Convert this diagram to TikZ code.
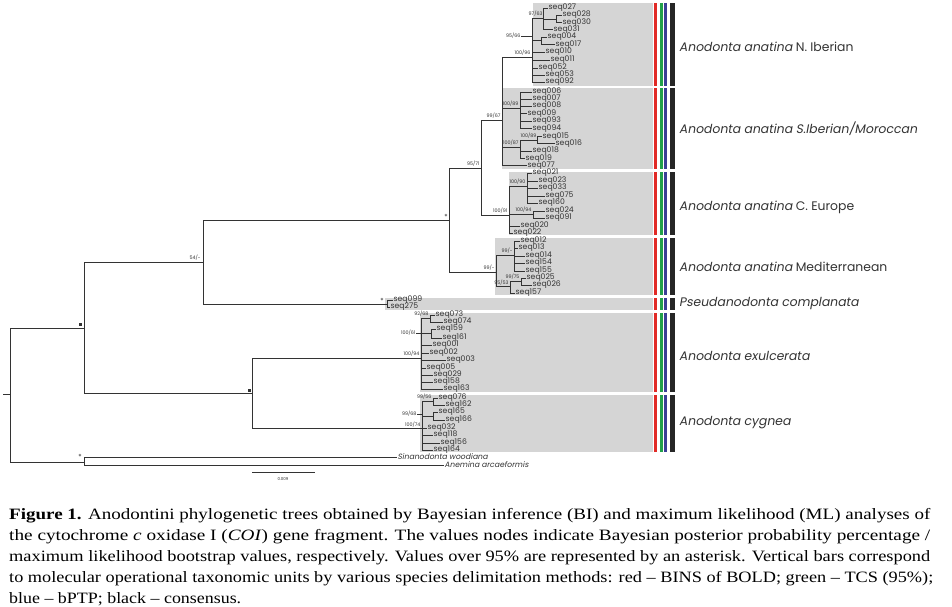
\documentclass[tikz,border=0pt]{standalone}
\usepackage{fontspec}
\usepackage{graphicx}
\setmainfont{Liberation Serif}
\newfontfamily\treefont{Poppins}
\newfontfamily\treeitfont[FakeSlant=0.18]{Poppins}
\definecolor{brc}{HTML}{333333}
\definecolor{boxc}{HTML}{D5D5D5}
\definecolor{barred}{HTML}{E12A26}
\definecolor{bargreen}{HTML}{22A04B}
\definecolor{barblue}{HTML}{3B3F96}
\definecolor{barblack}{HTML}{262626}
\tikzset{
  br/.style={draw=brc, line width=0.8pt},
  lead/.style={draw=brc, line width=0.35pt},
  tiplab/.style={anchor=west, inner sep=0.5pt, font=\treefont\fontsize{7.7}{8}\selectfont, text=brc},
  suplab/.style={inner sep=0.3pt, font=\treefont\fontsize{4.8}{5}\selectfont, text=brc},
  grplab/.style={anchor=west, inner sep=0pt, font=\treefont\fontsize{12.4}{14}\selectfont, text=brc},
  sqdot/.style={fill=brc, minimum size=3pt, inner sep=0pt},
  caplab/.style={anchor=base west, inner sep=0pt, font=\fontsize{15.8}{18}\selectfont},
}
\newcommand\lf[5]{\coordinate (#1) at (#3,#4); \draw[br] (#2) |- (#1); \node[tiplab] (#1l) at (#1) {#5};}
\newcommand\nd[4]{\coordinate (#1) at (#3,#4); \draw[br] (#2) |- (#1);}
\begin{document}
\begin{tikzpicture}[x=1pt,y=-1pt]
\useasboundingbox (0,0) rectangle (952,607);
% grey boxes and bars
\foreach \ya/\yb/\xl in {3/86/533, 88/169/502, 172/235/509, 238/295/495, 298/310/385, 313/392/420, 395/452/420}{
  \fill[boxc] (\xl,\ya) rectangle (653,\yb);
  \fill[barred] (654.3,\ya) rectangle (656.8,\yb);
  \fill[bargreen] (660,\ya) rectangle (662.5,\yb);
  \fill[barblue] (664.3,\ya) rectangle (666.8,\yb);
  \fill[barblack] (670,\ya) rectangle (675,\yb);
}
% group labels
\node[grplab] (gNI) at (679,47) {{\treeitfont Anodonta anatina} N. Iberian};
\begin{scope}
  \clip (676,110) rectangle (918,150);
  \node[grplab] (gSI) at (679,129) {{\treeitfont Anodonta anatina S.Iberian/Moroccan}};
\end{scope}
\node[grplab] (gCE) at (679,207) {{\treeitfont Anodonta anatina} C. Europe};
\node[grplab] (gMD) at (679,267) {{\treeitfont Anodonta anatina} Mediterranean};
\node[grplab] (gPS) at (679,304) {{\treeitfont Pseudanodonta complanata}};
\node[grplab] (gEX) at (679,356) {{\treeitfont Anodonta exulcerata}};
\node[grplab] (gCY) at (679,423) {{\treeitfont Anodonta cygnea}};
% backbone
\coordinate (stub) at (3,394);
\coordinate (root) at (10,394);
\draw[br] (stub) -- (root);
\nd{n1}{root}{84}{328}
\nd{og}{root}{84}{462}
\nd{n2}{n1}{203}{262}
\nd{n3}{n1}{252}{393}
\nd{anat}{n2}{449}{220}
\nd{pseu}{n2}{387}{304}
\nd{a1}{anat}{481}{168}
\nd{med}{anat}{496}{272}
\nd{a2}{a1}{502}{120}
\nd{ceu}{a1}{509}{215}
% N. Iberian
\nd{nib}{a2}{532}{57}
\nd{ni1}{nib}{543}{18}
\lf{s027}{ni1}{548}{8}{seq027}
\nd{ni1b}{ni1}{556}{19}
\lf{s028}{ni1b}{562}{15}{seq028}
\lf{s030}{ni1b}{562}{22.5}{seq030}
\lf{s031}{ni1}{553}{29.5}{seq031}
\nd{ni2}{nib}{541}{40.5}
\lf{s004}{ni2}{547}{37}{seq004}
\lf{s017}{ni2}{555}{44.5}{seq017}
\lf{s010}{nib}{545}{52}{seq010}
\lf{s011}{nib}{550}{60}{seq011}
\lf{s052}{nib}{538}{68}{seq052}
\lf{s053}{nib}{545}{75}{seq053}
\lf{s092}{nib}{545}{82}{seq092}
% S. Iberian
\nd{sibA}{a2}{520}{108}
\lf{s006}{sibA}{532}{92}{seq006}
\lf{s007}{sibA}{532}{99}{seq007}
\lf{s008}{sibA}{532}{106}{seq008}
\lf{s009}{sibA}{527}{113.5}{seq009}
\lf{s093}{sibA}{532}{121}{seq093}
\lf{s094}{sibA}{532}{128.5}{seq094}
\nd{sibB}{a2}{520}{147}
\nd{sibB1}{sibB}{537}{140}
\lf{s015}{sibB1}{542}{136.5}{seq015}
\lf{s016}{sibB1}{555}{143.5}{seq016}
\lf{s018}{sibB}{532}{151}{seq018}
\lf{s019}{sibB}{525}{158.5}{seq019}
\lf{s077}{a2}{527}{165.5}{seq077}
% C. Europe
\nd{ceA}{ceu}{527}{186}
\lf{s021}{ceA}{532}{173}{seq021}
\lf{s023}{ceA}{538}{181}{seq023}
\lf{s033}{ceA}{538}{188}{seq033}
\lf{s075}{ceA}{545}{196}{seq075}
\lf{s160}{ceA}{538}{203}{seq160}
\nd{ceB}{ceu}{533}{214.5}
\lf{s024}{ceB}{545}{211}{seq024}
\lf{s091}{ceB}{545}{218}{seq091}
\lf{s020}{ceu}{520}{226}{seq020}
\lf{s022}{ceu}{513}{233}{seq022}
% Mediterranean
\nd{mdA}{med}{514}{255}
\lf{s012}{mdA}{520}{241}{seq012}
\lf{s013}{mdA}{518}{248}{seq013}
\lf{s014}{mdA}{525}{256}{seq014}
\lf{s154}{mdA}{525}{263}{seq154}
\lf{s155}{mdA}{525}{271}{seq155}
\nd{mdB}{med}{510}{286}
\nd{mdB1}{mdB}{521}{281}
\lf{s025}{mdB1}{526}{278}{seq025}
\lf{s026}{mdB1}{532}{285}{seq026}
\lf{s157}{mdB}{515}{293}{seq157}
% Pseudanodonta
\lf{s099}{pseu}{393}{300}{seq099}
\lf{s275}{pseu}{390}{307}{seq275}
% exulcerata
\nd{ex}{n3}{421}{358}
\nd{ex1}{ex}{430}{318}
\lf{s073}{ex1}{435}{315}{seq073}
\lf{s074}{ex1}{443}{322}{seq074}
\nd{ex2}{ex}{431}{333}
\lf{s159}{ex2}{436}{329}{seq159}
\lf{s161}{ex2}{442}{338}{seq161}
\lf{s001}{ex}{432}{345}{seq001}
\lf{s002}{ex}{429}{353}{seq002}
\lf{s003}{ex}{446}{360}{seq003}
\lf{s005}{ex}{426}{368}{seq005}
\lf{s029}{ex}{433}{375}{seq029}
\lf{s158}{ex}{433}{382}{seq158}
\lf{s163}{ex}{443}{389}{seq163}
% cygnea
\nd{cy}{n3}{422}{428}
\nd{cy1}{cy}{433}{401}
\lf{s076}{cy1}{438}{398}{seq076}
\lf{s162}{cy1}{445}{405}{seq162}
\nd{cy2}{cy}{433}{416}
\lf{s165}{cy2}{438}{412}{seq165}
\lf{s166}{cy2}{445}{420}{seq166}
\lf{s032}{cy}{427}{428}{seq032}
\lf{s118}{cy}{433}{435}{seq118}
\lf{s156}{cy}{440}{443}{seq156}
\lf{s164}{cy}{433}{450}{seq164}
% outgroups
\lf{sino}{og}{397}{457}{{\treeitfont Sinanodonta woodiana}}
\lf{anem}{og}{444}{465}{{\treeitfont Anemina arcaeformis}}
% support values
\node[sqdot] (d-n1) at (80,324) {};
\node[sqdot] (d-n3) at (249,390) {};
\node[suplab, font=\treefont\fontsize{7}{7}\selectfont] (d-anat) at (446,217) {*};
\node[suplab, font=\treefont\fontsize{7}{7}\selectfont] (d-pseu) at (382,301) {*};
\node[suplab, font=\treefont\fontsize{7}{7}\selectfont] (d-og) at (80,457) {*};
\node[suplab, anchor=south east] (l-n2) at (201,261) {54/-};
\node[suplab, anchor=south east] (l-a1) at (480,167) {95/71};
\node[suplab, anchor=south east] (l-a2) at (501,119) {99/67};
\node[suplab, anchor=south east] (l-nib) at (531,56) {100/96};
\node[suplab, anchor=south east] (l-ni1) at (543,17) {97/63};
\node[suplab, anchor=east] (l-ni2) at (521,36) {95/66};
\draw[lead] (l-ni2.east) -- (532,36);
\node[suplab, anchor=south east] (l-sibA) at (519,107) {100/89};
\node[suplab, anchor=south east] (l-sibB1) at (537,139) {100/89};
\node[suplab, anchor=south east] (l-sibB) at (519,146) {100/87};
\node[suplab, anchor=south east] (l-ceu) at (508,214) {100/91};
\node[suplab, anchor=south east] (l-ceA) at (526,185) {100/90};
\node[suplab, anchor=south east] (l-ceB) at (532,213) {100/94};
\node[suplab, anchor=south east] (l-med) at (495,271) {99/-};
\node[suplab, anchor=south east] (l-mdA) at (513,254) {99/-};
\node[suplab, anchor=south east] (l-mdB1) at (520,280) {99/75};
\node[suplab, anchor=south east] (l-mdB) at (509,285.5) {95/53};
\node[suplab, anchor=south east] (l-ex) at (420,357) {100/94};
\node[suplab, anchor=south east] (l-ex1) at (429,317) {92/68};
\node[suplab, anchor=east] (l-ex2) at (416,333) {100/61};
\draw[lead] (l-ex2.east) -- (421,333);
\node[suplab, anchor=south east] (l-cy) at (421,427.5) {100/74};
\node[suplab, anchor=south east] (l-cy1) at (432,400) {99/56};
\node[suplab, anchor=east] (l-cy2) at (417,414) {99/68};
\draw[lead] (l-cy2.east) -- (422,414);
% scale bar
\coordinate (sb1) at (252,472);
\coordinate (sb2) at (315,472);
\draw[lead, line width=0.5pt] (sb1) -- (sb2);
\node[suplab, font=\treefont\fontsize{4}{4}\selectfont] (sbl) at (283,479) {0.009};
% caption
\node[caplab] (c1) at (9,519) {\resizebox{921pt}{\height}{\textbf{Figure 1.} Anodontini phylogenetic trees obtained by Bayesian inference (BI) and maximum likelihood (ML) analyses of}};
\node[caplab] (c2) at (9,540) {\resizebox{921pt}{\height}{the cytochrome \textit{c} oxidase I (\textit{COI}) gene fragment. The values nodes indicate Bayesian posterior probability percentage /}};
\node[caplab] (c3) at (9,561) {\resizebox{921pt}{\height}{maximum likelihood bootstrap values, respectively. Values over 95\% are represented by an asterisk. Vertical bars correspond}};
\node[caplab] (c4) at (9,582) {\resizebox{924pt}{\height}{to molecular operational taxonomic units by various species delimitation methods: red – BINS of BOLD; green – TCS (95\%);}};
\node[caplab] (c5) at (9,603) {\resizebox{232pt}{\height}{blue – bPTP; black – consensus.}};
\end{tikzpicture}
\end{document}
